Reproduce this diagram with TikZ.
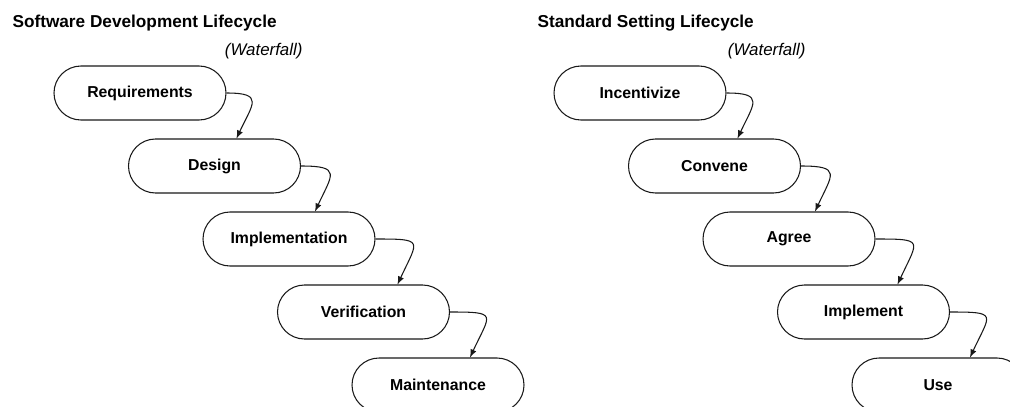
\documentclass[tikz,border=0pt]{standalone}
\usepackage{fontspec}
\setmainfont{Liberation Sans}
\usepackage{tikz}
\usetikzlibrary{arrows}
\tikzset{stage/.style={draw,rectangle,rounded corners=0.54cm,
                       minimum width=3.44cm,minimum height=1.08cm,
                       font=\bfseries\fontsize{9}{11}\selectfont}}
\tikzset{lifetitle/.style={anchor=base west,inner sep=0pt,
                       font=\bfseries\fontsize{9.8}{12}\selectfont}}
\tikzset{subtitle/.style={anchor=base east,inner sep=0pt,
                       font=\itshape\fontsize{9.6}{12}\selectfont}}
\def\stepx{1.49}
\def\stepy{1.46}

\begin{document}
\begin{tikzpicture}[line width=0.6pt, >=latex, draw=black!90]
    \useasboundingbox (0,0) rectangle (20.2,-8.14);

    % Titles
    \node[lifetitle] (ltitle) at (0.24,-0.56) {Software Development Lifecycle};
    \node[subtitle] (lsub) at (6.06,-1.10) {(Waterfall)};
    \node[lifetitle] (rtitle) at (10.74,-0.56) {Standard Setting Lifecycle};
    \node[subtitle] (rsub) at (16.12,-1.10) {(Waterfall)};

    % Left waterfall
    \foreach \t [count=\i] in {Requirements,Design,Implementation,Verification,Maintenance}{%
          \node[stage] (l\i) at (1.31+\stepx*\i,-0.40-\stepy*\i) {\t};
    }
    % Right waterfall
    \foreach \t [count=\i] in {Incentivize,Convene,Agree,Implement,Use}{%
          \node[stage] (r\i) at (11.31+\stepx*\i,-0.40-\stepy*\i) {\t};
    }

    % Arrows
    \foreach \a/\b/\s/\l in {1/2/0.44/2.1, 2/3/0.52/2.2, 3/4/0.68/2.5, 4/5/0.64/2.5}{%
          \draw[->] (l\a.east) to[out=0,in=65,looseness=\l] ([xshift=\s cm]l\b.north);
    }
    \foreach \a/\b/\s/\l in {1/2/0.46/2.1, 2/3/0.52/2.2, 3/4/0.68/2.5, 4/5/0.64/2.5}{%
          \draw[->] (r\a.east) to[out=0,in=65,looseness=\l] ([xshift=\s cm]r\b.north);
    }
\end{tikzpicture}
\end{document}
